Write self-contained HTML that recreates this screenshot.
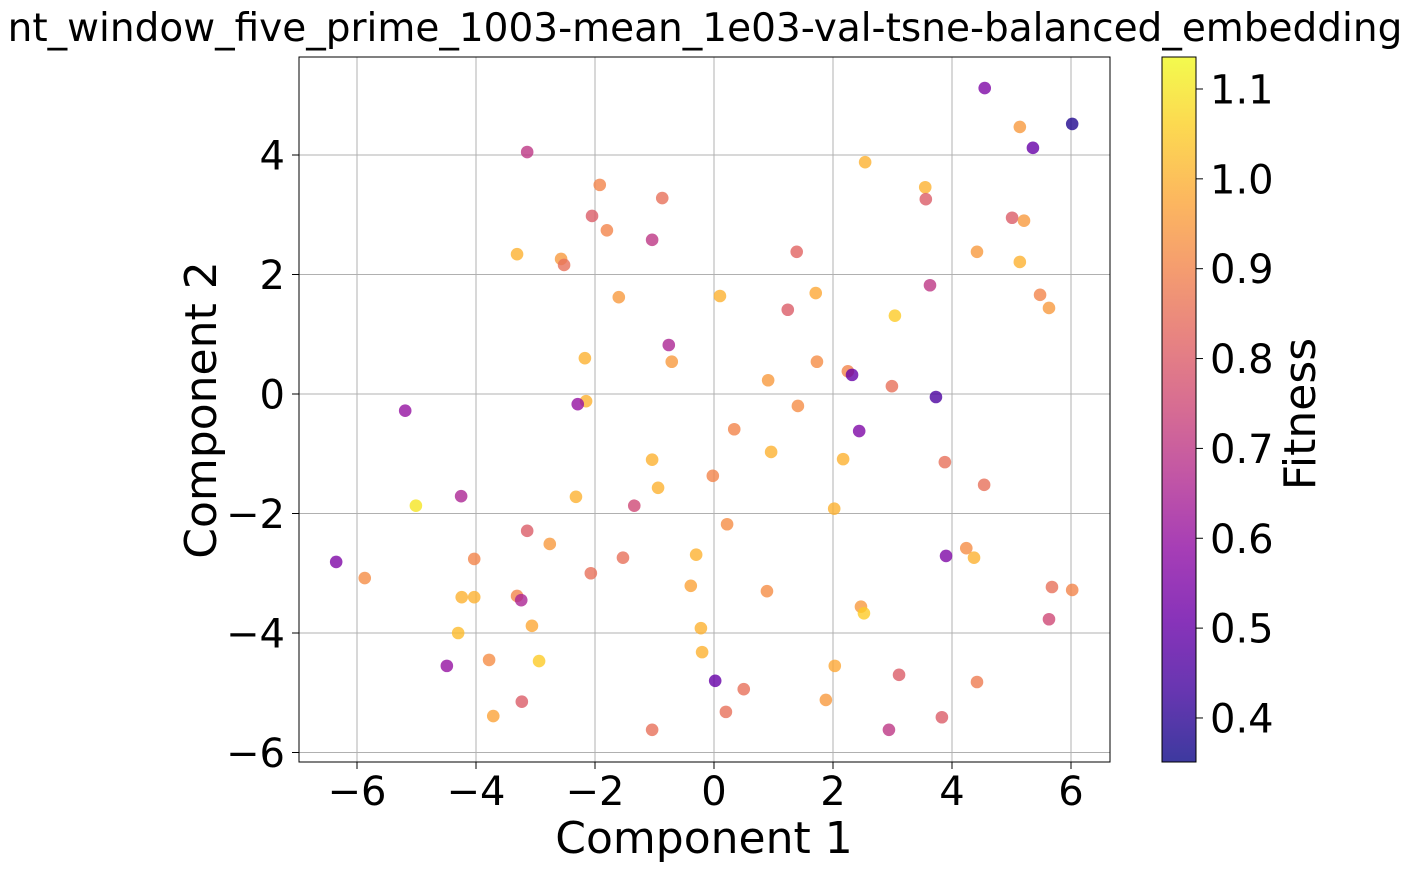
<!DOCTYPE html>
<html><head><meta charset="utf-8"><style>
body{margin:0;background:#fff;}
svg{font-family:"DejaVu Sans","Liberation Sans",sans-serif;}
</style></head><body>
<svg id="c" width="1409" height="872">
<defs><linearGradient id="cb" x1="0" y1="1" x2="0" y2="0">
<stop offset="0" stop-color="#0d0887"/><stop offset="0.1" stop-color="#41049d"/><stop offset="0.2" stop-color="#6a00a8"/><stop offset="0.3" stop-color="#8f0da4"/><stop offset="0.4" stop-color="#b12a90"/><stop offset="0.5" stop-color="#cc4778"/><stop offset="0.6" stop-color="#e16462"/><stop offset="0.7" stop-color="#f2844b"/><stop offset="0.8" stop-color="#fca636"/><stop offset="0.9" stop-color="#fcce25"/><stop offset="1" stop-color="#f0f921"/></linearGradient></defs>
<text x="705" y="41" font-size="39" text-anchor="middle">nt_window_five_prime_1003-mean_1e03-val-tsne-balanced_embedding</text>
<g id="grid"></g><g id="pts"></g><g id="axes"></g>
<rect x="1162" y="57" width="34" height="705" fill="url(#cb)" opacity="0.8"/>
<rect x="1162" y="57" width="34" height="705" fill="none" stroke="#000" stroke-width="1"/>
<g id="cbt"></g>
<text x="704" y="853" font-size="44" text-anchor="middle">Component 1</text>
<text transform="translate(216,410) rotate(-90)" font-size="44" text-anchor="middle">Component 2</text>
<text transform="translate(1315,414) rotate(-90)" font-size="44" text-anchor="middle">Fitness</text>
</svg>
<script>
const xs=[4.55,6.02,5.14,5.36,-3.14,2.54,-1.92,3.55,-0.87,3.56,-2.05,5.01,5.21,-1.8,-1.04,-3.31,1.39,4.42,-2.57,-2.52,5.14,1.71,-1.6,0.1,5.48,5.63,3.63,1.24,3.04,-0.76,-2.17,-0.71,1.73,2.25,2.32,0.91,2.99,3.73,-5.19,-2.15,-2.29,1.41,0.34,2.44,0.96,-1.04,2.17,3.88,-0.02,4.54,-0.94,-4.25,-2.32,-1.34,-5.01,2.02,0.22,-3.14,-2.76,4.24,3.9,-4.03,-0.3,4.37,-1.53,-6.35,-2.07,-5.87,5.68,-0.39,0.89,6.02,-3.31,-4.24,-4.03,-3.24,2.47,2.52,5.63,-3.06,-0.22,-4.3,-3.78,-2.94,-4.49,-0.2,2.03,3.11,4.42,0.02,0.5,1.88,-3.23,-3.71,0.2,3.83,-1.04,2.94];
const ys=[5.12,4.52,4.47,4.12,4.05,3.88,3.5,3.46,3.28,3.26,2.98,2.95,2.9,2.74,2.58,2.34,2.38,2.38,2.26,2.16,2.21,1.69,1.62,1.64,1.66,1.44,1.82,1.41,1.31,0.82,0.6,0.54,0.54,0.38,0.32,0.23,0.13,-0.05,-0.28,-0.12,-0.17,-0.2,-0.59,-0.62,-0.97,-1.1,-1.09,-1.14,-1.37,-1.52,-1.57,-1.71,-1.72,-1.87,-1.87,-1.92,-2.18,-2.29,-2.51,-2.58,-2.71,-2.76,-2.69,-2.74,-2.74,-2.81,-3.0,-3.08,-3.23,-3.21,-3.3,-3.28,-3.38,-3.4,-3.4,-3.45,-3.56,-3.67,-3.77,-3.88,-3.92,-4.0,-4.45,-4.47,-4.55,-4.32,-4.55,-4.7,-4.82,-4.8,-4.94,-5.12,-5.15,-5.39,-5.32,-5.41,-5.62,-5.62];
const fit=[0.55,0.38,0.95,0.5,0.7,1.0,0.9,1.0,0.85,0.8,0.8,0.8,0.95,0.9,0.7,1.0,0.82,0.95,0.95,0.85,1.0,0.98,0.95,1.0,0.9,0.95,0.7,0.8,1.05,0.65,1.0,0.95,0.92,0.9,0.5,0.95,0.85,0.45,0.6,1.0,0.6,0.92,0.9,0.55,1.0,1.0,1.0,0.85,0.9,0.85,1.0,0.65,1.0,0.75,1.1,1.0,0.92,0.8,0.95,0.92,0.55,0.9,1.0,1.0,0.85,0.55,0.85,0.92,0.85,0.97,0.92,0.9,0.9,1.0,1.0,0.65,0.95,1.05,0.75,0.98,1.0,1.02,0.92,1.05,0.6,1.0,0.98,0.8,0.88,0.5,0.85,0.95,0.8,0.97,0.85,0.8,0.85,0.7];
const xTicks=[-6,-4,-2,0,2,4,6];
const yTicks=[-6,-4,-2,0,2,4];
const cTicks=[0.4,0.5,0.6,0.7,0.8,0.9,1.0,1.1];
const X=v=>714+v*59.5, Y=v=>394-v*59.75;
const cmin=0.351,cmax=1.1356, C=v=>762-(v-cmin)/(cmax-cmin)*705;
const stops=["#0d0887","#41049d","#6a00a8","#8f0da4","#b12a90","#cc4778","#e16462","#f2844b","#fca636","#fcce25","#f0f921"].map(h=>[1,3,5].map(i=>parseInt(h.substr(i,2),16)));
function cmap(v){let t=Math.max(0,Math.min(1,(v-cmin)/(cmax-cmin)))*10;let i=Math.min(9,Math.floor(t)),f=t-i;const a=stops[i],b=stops[i+1];return `rgb(${a.map((c,k)=>Math.round(c+(b[k]-c)*f)).join(',')})`;}
const NS="http://www.w3.org/2000/svg";
function mk(p,tag,at){const e=document.createElementNS(NS,tag);for(const k in at)e.setAttribute(k,at[k]);document.getElementById(p).appendChild(e);return e;}
xTicks.forEach(v=>{
 const g=mk('grid','line',{x1:X(v),x2:X(v),y1:57,y2:762,stroke:'#b0b0b0','stroke-width':1});
 
 
 mk('axes','line',{x1:X(v),x2:X(v),y1:762,y2:769,stroke:'#000'});
 const t=mk('axes','text',{x:X(v),y:805,'font-size':40,'text-anchor':'middle'});t.textContent=(v<0?'\u2212'+(-v):v);
 
 
});
yTicks.forEach(v=>{
 const g=mk('grid','line',{x1:299,x2:1110,y1:Y(v),y2:Y(v),stroke:'#b0b0b0','stroke-width':1});
 
 
 mk('axes','line',{x1:292,x2:299,y1:Y(v),y2:Y(v),stroke:'#000'});
 const t=mk('axes','text',{x:285,y:Y(v)+14.5,'font-size':40,'text-anchor':'end'});t.textContent=(v<0?'\u2212'+(-v):v);
 
 
});
const fr=mk('axes','rect',{x:299,y:57,width:811,height:705,fill:'none',stroke:'#000','stroke-width':1});


xs.forEach((v,i)=>{
 const p=mk('pts','circle',{cx:X(v),cy:Y(ys[i]),r:6.3,fill:cmap(fit[i]),'fill-opacity':0.8});
 
 
});
cTicks.forEach(v=>{
 mk('cbt','line',{x1:1196,x2:1203,y1:C(v),y2:C(v),stroke:'#000'});
 const t=mk('cbt','text',{x:1210,y:C(v)+14.5,'font-size':40});t.textContent=v.toFixed(1);
 
 
});
</script>
</body></html>
